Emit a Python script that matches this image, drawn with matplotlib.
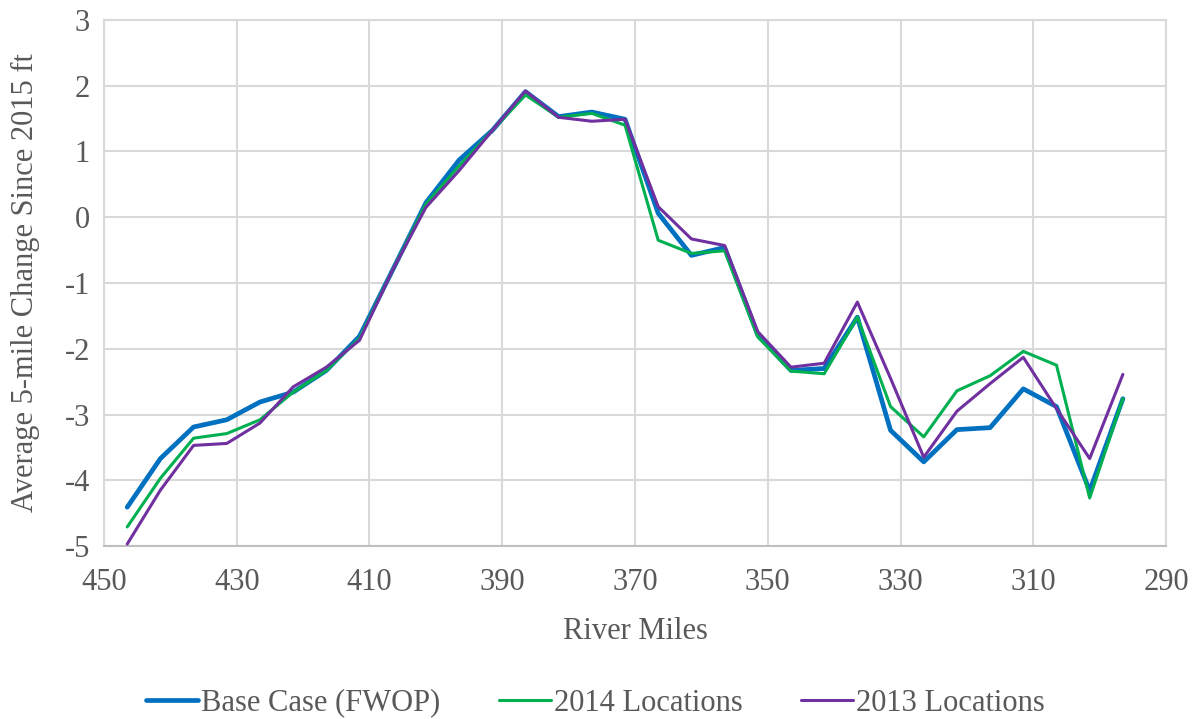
import matplotlib
matplotlib.use("Agg")
import matplotlib.pyplot as plt

# river mile at the centre of each 5-mile reach
miles = [446.5, 441.5, 436.5, 431.5, 426.5, 421.5, 416.5, 411.5, 406.5, 401.5,
         396.5, 391.5, 386.5, 381.5, 376.5, 371.5, 366.5, 361.5, 356.5, 351.5,
         346.5, 341.5, 336.5, 331.5, 326.5, 321.5, 316.5, 311.5, 306.5, 301.5,
         296.5]

base_case = [-4.41, -3.67, -3.19, -3.08, -2.81, -2.66, -2.33, -1.81, -0.80, 0.22,
             0.87, 1.32, 1.91, 1.53, 1.60, 1.49, 0.06, -0.58, -0.46, -1.79,
             -2.33, -2.30, -1.52, -3.24, -3.72, -3.23, -3.20, -2.61, -2.88, -4.16,
             -2.76]
loc_2014 = [-4.71, -3.97, -3.36, -3.29, -3.08, -2.66, -2.33, -1.84, -0.80, 0.20,
            0.78, 1.32, 1.86, 1.52, 1.58, 1.40, -0.35, -0.55, -0.51, -1.82,
            -2.34, -2.38, -1.52, -2.88, -3.34, -2.64, -2.41, -2.04, -2.25, -4.27,
            -2.76]
loc_2013 = [-4.97, -4.15, -3.47, -3.44, -3.13, -2.58, -2.28, -1.87, -0.80, 0.15,
            0.71, 1.32, 1.92, 1.52, 1.46, 1.49, 0.16, -0.33, -0.43, -1.74,
            -2.28, -2.22, -1.29, -2.45, -3.65, -2.95, -2.53, -2.13, -2.91, -3.67,
            -2.39]

x_ticks = [450, 430, 410, 390, 370, 350, 330, 310, 290]
y_ticks = [3, 2, 1, 0, -1, -2, -3, -4, -5]

plt.rcParams['font.family'] = ['Liberation Serif', 'DejaVu Serif']
plt.rcParams['axes.unicode_minus'] = False
text_color = '#595959'
grid_color = '#D9D9D9'

fig = plt.figure(figsize=(11.98, 7.19), dpi=100)
ax = fig.add_axes([0.0868, 0.2406, 0.8865, 0.7316])

ax.plot(miles, base_case, color='#0070C0', lw=3.4, label='Base Case (FWOP)',
        solid_capstyle='round', zorder=3)
ax.plot(miles, loc_2014, color='#00B050', lw=2.2, label='2014 Locations',
        solid_capstyle='round', zorder=4)
ax.plot(miles, loc_2013, color='#7030A0', lw=2.2, label='2013 Locations',
        solid_capstyle='round', zorder=5)

ax.set_xlim(450, 290)
ax.set_ylim(-5, 3)
ax.set_xticks(x_ticks)
ax.set_yticks(y_ticks)
ax.grid(True, color=grid_color, lw=1.5)
ax.set_axisbelow(True)
for s in ax.spines.values():
    s.set_color(grid_color)
    s.set_linewidth(1.5)
ax.spines['bottom'].set_color('#BFBFBF')
ax.tick_params(axis='x', pad=16)
ax.tick_params(axis='y', pad=10)
ax.tick_params(length=0, labelsize=22, colors=text_color)

ax.set_xlabel('River Miles', fontsize=22, color=text_color, labelpad=14)
ax.set_ylabel('Average 5-mile Change Since 2015 ft', fontsize=22,
              color=text_color, labelpad=18)

leg = fig.legend(loc='center', bbox_to_anchor=(0.497, 0.022), ncol=3,
                 frameon=False, fontsize=22, handlelength=1.7,
                 columnspacing=1.9, handletextpad=0.1)
for t in leg.get_texts():
    t.set_color(text_color)

fig.savefig('out.png', dpi=100)
